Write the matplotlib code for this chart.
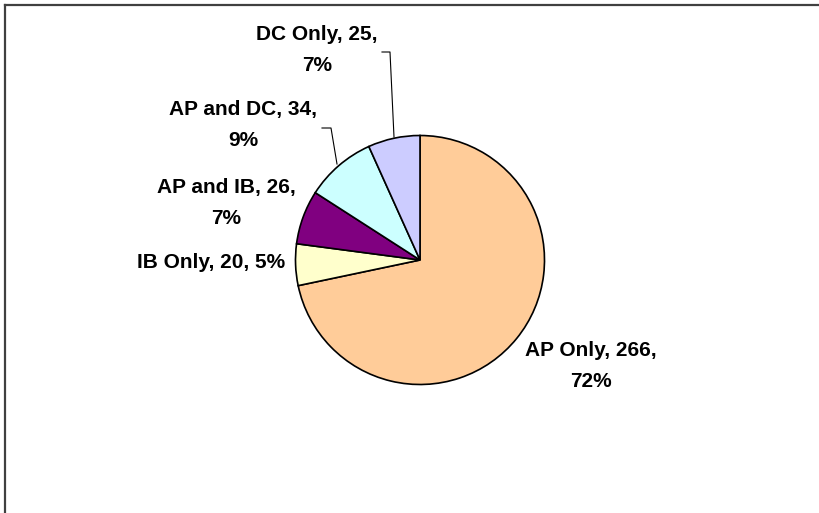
import matplotlib
matplotlib.use("Agg")
import matplotlib.pyplot as plt
from matplotlib.lines import Line2D

categories = ["AP Only", "IB Only", "AP and IB", "AP and DC", "DC Only"]
counts = [266, 20, 26, 34, 25]
colors = ["#FFCC99", "#FFFFCC", "#800080", "#CCFFFF", "#CCCCFF"]

W, H = 820, 513
fig = plt.figure(figsize=(W / 100, H / 100), dpi=100)
fig.patch.set_facecolor("white")

def fx(x):
    return x / W

def fy(y):
    return 1 - y / H

# border (top and left visible, extends beyond right/bottom)
fig.add_artist(Line2D([fx(5), fx(5)], [fy(5), fy(H + 5)], color="#404040", lw=1.6,
                      transform=fig.transFigure))
fig.add_artist(Line2D([fx(5), fx(W + 5)], [fy(5), fy(5)], color="#404040", lw=1.6,
                      transform=fig.transFigure))

cx, cy, r = 420, 260, 124.5
ax = fig.add_axes([fx(cx - r), fy(cy + r), 2 * r / W, 2 * r / H])
ax.pie(counts, colors=colors, startangle=90, counterclock=False, radius=1,
       wedgeprops=dict(edgecolor="black", linewidth=1.2))
ax.set_xlim(-1, 1)
ax.set_ylim(-1, 1)
ax.set_aspect("equal")
ax.axis("off")

total = sum(counts)
pcts = [round(c / total * 100) for c in counts]

# label layout (pixel positions of text block centers) and line breaks
layout = {
    "AP Only": (591, 366, "{c}, {v},\n{p}%"),
    "IB Only": (211, 263, "{c}, {v}, {p}%"),
    "AP and IB": (226, 203, "{c}, {v},\n{p}%"),
    "AP and DC": (243, 125, "{c}, {v},\n{p}%"),
    "DC Only": (317, 50, "{c}, {v},\n{p}%"),
}
for c, v, p in zip(categories, counts, pcts):
    x, y, fmt = layout[c]
    fig.text(fx(x), fy(y), fmt.format(c=c, v=v, p=p), ha="center", va="center",
             multialignment="center", fontsize=15, fontweight="bold",
             family="Liberation Sans", linespacing=1.75)

# leader lines
leaders = [
    [(382, 52), (390, 52), (394, 137)],
    [(322, 128), (331, 128), (337, 164)],
]
for pts in leaders:
    xs = [fx(p[0]) for p in pts]
    ys = [fy(p[1]) for p in pts]
    fig.add_artist(Line2D(xs, ys, color="black", lw=0.8, transform=fig.transFigure))

fig.savefig("out.png", dpi=100)
